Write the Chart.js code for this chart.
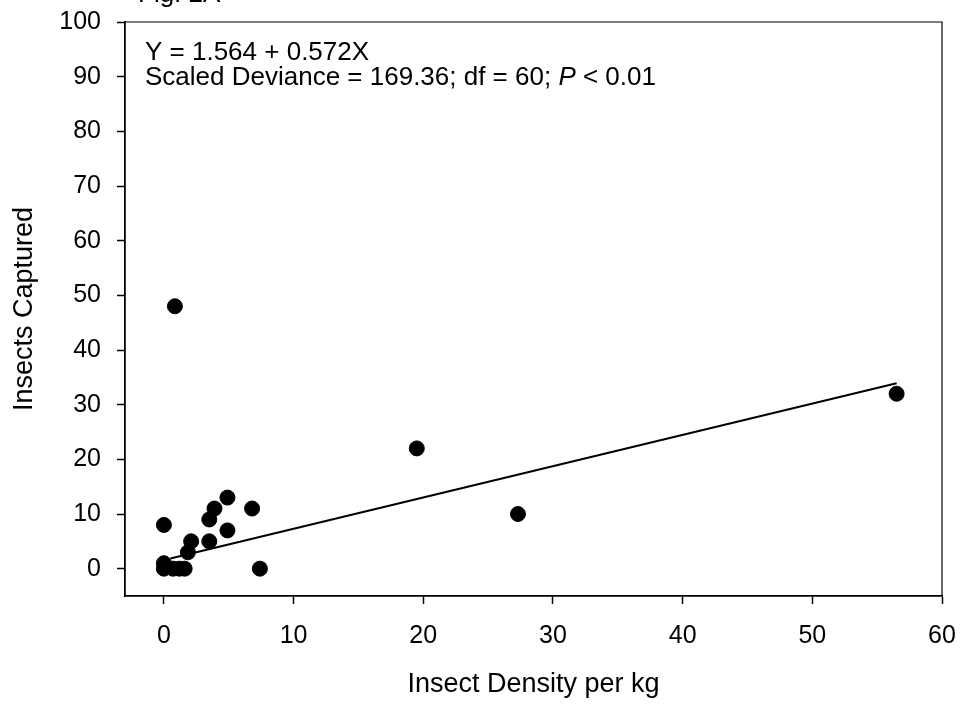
<!DOCTYPE html>
<html>
<head>
<meta charset="utf-8">
<title>Insects Captured vs Insect Density</title>
<script src="https://cdn.jsdelivr.net/npm/chart.js@4.4.0/dist/chart.umd.min.js"></script>
<style>
  html, body { margin: 0; padding: 0; background: #fff; }
  canvas { display: block; }
</style>
</head>
<body>
<canvas id="chart" width="965" height="707"></canvas>
<script>
// observed points
const densityX = [0.85, 0, 0, 0, 0.7, 1.2, 1.6, 1.85, 2.1, 3.5, 3.5, 3.9, 4.9, 4.9, 6.8, 7.4, 19.5, 27.3, 56.5]
const capturedY = [48, 8, 1, 0, 0, 0, 0, 3, 5, 5, 9, 11, 13, 7, 11, 0, 22, 10, 32]

// fitted line end points
const fitX = [0.5, 56.5]
const fitY = [1.85, 33.9]

const xTicks = [0, 10, 20, 30, 40, 50, 60]
const yTicks = [0, 10, 20, 30, 40, 50, 60, 70, 80, 90, 100]

const equationText = 'Y = 1.564 + 0.572X'
const devianceParts = ['Scaled Deviance = 169.36; df = 60; ', 'P', ' < 0.01']
const figLabel = 'Fig. 2A'

const FONT = '"Liberation Sans", Arial, sans-serif'

// frame + text drawn on top of the chart
const frameAndText = {
  id: 'frameAndText',
  afterDraw(chart) {
    const { ctx, chartArea } = chart
    ctx.save()
    ctx.strokeStyle = '#000'
    ctx.lineWidth = 1.2
    ctx.beginPath()
    ctx.moveTo(chartArea.left, chartArea.top)
    ctx.lineTo(chartArea.right, chartArea.top)
    ctx.lineTo(chartArea.right, chartArea.bottom)
    ctx.stroke()

    ctx.fillStyle = '#000'
    ctx.textBaseline = 'alphabetic'
    ctx.font = `26px ${FONT}`
    ctx.fillText(figLabel, 138, 2)

    const x0 = chartArea.left + 20
    ctx.fillText(equationText, x0, chartArea.top + 38)
    let x = x0
    const y2 = chartArea.top + 63
    devianceParts.forEach((part, i) => {
      ctx.font = (i === 1 ? 'italic ' : '') + `26px ${FONT}`
      ctx.fillText(part, x, y2)
      x += ctx.measureText(part).width
    })
    ctx.restore()
  }
}

const axisStyle = {
  grid: { drawOnChartArea: false, drawTicks: true, tickLength: 8, tickColor: '#000', tickWidth: 1.5 },
  border: { color: '#000', width: 1.8 },
}

new Chart(document.getElementById('chart'), {
  type: 'scatter',
  data: {
    datasets: [
      {
        label: 'Observed',
        data: densityX.map((x, i) => ({ x, y: capturedY[i] })),
        backgroundColor: '#000',
        borderColor: '#000',
        pointRadius: 7.5,
        pointHoverRadius: 7.5,
      },
      {
        type: 'line',
        label: 'Fit',
        data: fitX.map((x, i) => ({ x, y: fitY[i] })),
        borderColor: '#000',
        borderWidth: 2,
        pointRadius: 0,
        fill: false,
      }
    ]
  },
  options: {
    responsive: false,
    animation: false,
    layout: { padding: { left: 0, top: 22, right: 23, bottom: 0 } },
    plugins: {
      legend: { display: false },
      tooltip: { enabled: false },
    },
    scales: {
      x: {
        type: 'linear',
        min: -3,
        max: 60,
        ...axisStyle,
        afterBuildTicks: (scale) => { scale.ticks = xTicks.map(v => ({ value: v })) },
        afterFit: (scale) => {
          scale.height = 111
          scale.paddingLeft = 0
          scale.paddingRight = 0
        },
        ticks: { color: '#000', font: { family: FONT, size: 25 }, padding: 17, maxRotation: 0 },
        title: {
          display: true,
          text: 'Insect Density per kg',
          color: '#000',
          font: { family: FONT, size: 27 },
          padding: { top: 0, bottom: 6 },
        },
      },
      y: {
        type: 'linear',
        min: -5,
        max: 100,
        ...axisStyle,
        afterBuildTicks: (scale) => { scale.ticks = yTicks.map(v => ({ value: v })) },
        afterFit: (scale) => {
          scale.width = 125
          scale.paddingTop = 0
          scale.paddingBottom = 0
        },
        ticks: { color: '#000', font: { family: FONT, size: 25 }, padding: 16 },
        title: {
          display: true,
          text: 'Insects Captured',
          color: '#000',
          font: { family: FONT, size: 27 },
          padding: { top: 8, bottom: 0 },
        },
      }
    }
  },
  plugins: [frameAndText]
})
</script>
</body>
</html>
